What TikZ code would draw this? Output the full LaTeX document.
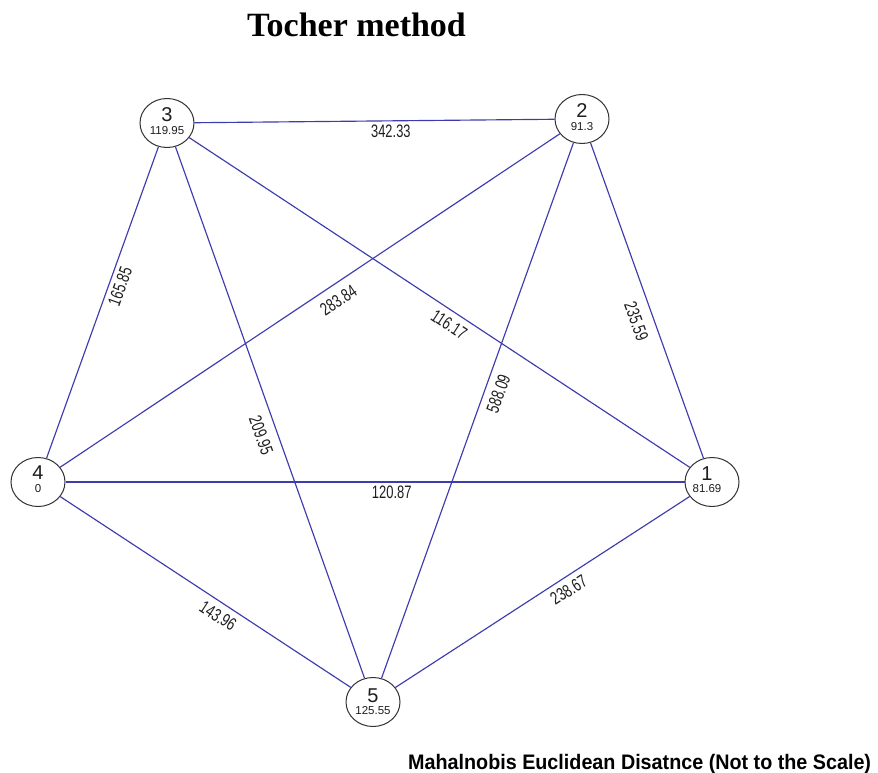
\documentclass[tikz,border=0pt]{standalone}
\usepackage{fontspec}
\usepackage{graphicx}
\setmainfont{Liberation Sans}
\newfontfamily\titlef{Liberation Serif}
\newcommand{\narr}[1]{\scalebox{0.72}[1]{#1}}
\newcommand{\capw}[1]{\scalebox{0.94}[1]{#1}}
\definecolor{edgeblue}{RGB}{60,60,175}
\definecolor{txtgray}{RGB}{30,30,30}
\tikzset{
  vtx/.style={ellipse, draw=black!80, line width=1pt, fill=white, minimum width=54pt, minimum height=49pt, inner sep=0pt},
  vnum/.style={font=\fontsize{20}{20}\selectfont, text=txtgray, inner sep=0pt},
  vval/.style={font=\fontsize{11.5}{11.5}\selectfont, text=txtgray, inner sep=0pt},
  edge/.style={draw=edgeblue, line width=1.15pt},
  elab/.style={font=\fontsize{18}{18}\selectfont, text=txtgray, sloped, inner sep=0pt, anchor=center}
}
\usetikzlibrary{shapes.geometric}
\begin{document}
\begin{tikzpicture}[x=1pt,y=-1pt]
\useasboundingbox (0,0) rectangle (878,773);
\fill[white] (0,0) rectangle (878,773);
% vertices
\node[vtx] (n3) at (167,123) {};
\node[vtx] (n2) at (582,119) {};
\node[vtx] (n4) at (38,482) {};
\node[vtx] (n1) at (712,482) {};
\node[vtx] (n5) at (373,702) {};
% edges
\draw[edge] (n3) -- (n2) node[elab, pos=0.545, yshift=-10.5pt] (e32) {\narr{342.33}};
\draw[edge] (n4) -- (n3) node[elab, pos=0.564, yshift=-11pt] (e43) {\narr{165.85}};
\draw[edge] (n2) -- (n1) node[elab, pos=0.548, yshift=-17pt] (e21) {\narr{235.59}};
\draw[edge] (n3) -- (n5) node[elab, pos=0.533, yshift=-16pt] (e35) {\narr{209.95}};
\draw[edge] (n5) -- (n2) node[elab, pos=0.540, yshift=-14pt] (e52) {\narr{588.09}};
\draw[edge] (n4) -- (n2) node[elab, pos=0.539, yshift=-16pt] (e42) {\narr{283.84}};
\draw[edge] (n3) -- (n1) node[elab, pos=0.534, yshift=-13.5pt] (e31) {\narr{116.17}};
\draw[edge] (n4) -- (n1) node[elab, pos=0.527, yshift=-10pt] (e41) {\narr{120.87}};
\draw[edge] (n4) -- (n5) node[elab, pos=0.568, yshift=-13pt] (e45) {\narr{143.96}};
\draw[edge] (n5) -- (n1) node[elab, pos=0.566, yshift=-12.5pt] (e51) {\narr{238.67}};
% vertex texts
\node[vnum] (t3) at ([yshift=8pt]n3.center) {3};
\node[vval] (v3) at ([yshift=-8pt]n3.center) {119.95};
\node[vnum] (t2) at ([yshift=8pt]n2.center) {2};
\node[vval] (v2) at ([yshift=-8pt]n2.center) {91.3};
\node[vnum] (t4) at ([yshift=9pt]n4.center) {4};
\node[vval] (v4) at ([yshift=-7pt]n4.center) {0};
\node[vnum] (t1) at ([xshift=-5pt,yshift=8pt]n1.center) {1};
\node[vval] (v1) at ([xshift=-5pt,yshift=-7pt]n1.center) {81.69};
\node[vnum] (t5) at ([yshift=6pt]n5.center) {5};
\node[vval] (v5) at ([yshift=-9pt]n5.center) {125.55};
% titles
\node[font=\titlef\bfseries\fontsize{34}{34}\selectfont, anchor=base, inner sep=0pt] (title) at (356.5,37) {Tocher method};
\node[font=\bfseries\fontsize{21}{21}\selectfont, anchor=base west, inner sep=0pt, text=black] (caption) at (408,769) {\capw{Mahalnobis Euclidean Disatnce (Not to the Scale)}};
\end{tikzpicture}
\end{document}
